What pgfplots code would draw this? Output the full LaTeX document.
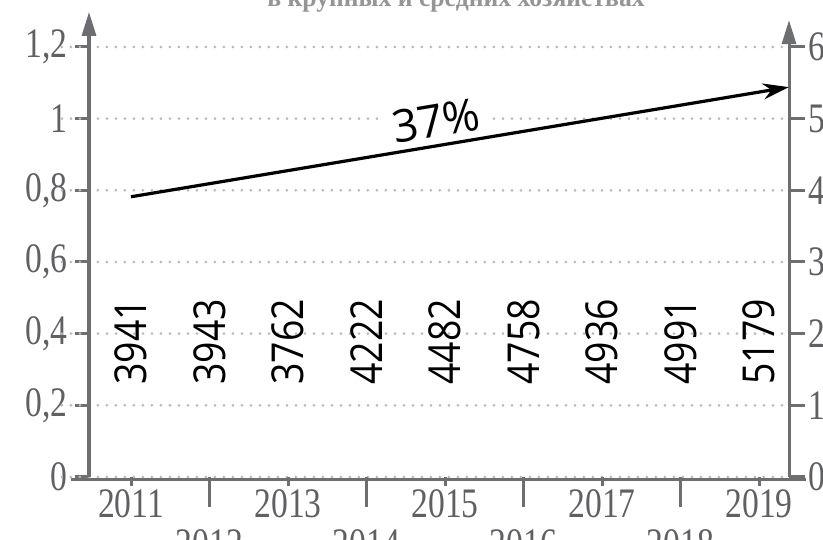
\documentclass[border=0pt]{standalone}
\usepackage{fontspec}
\usepackage{pgfplots}
\pgfplotsset{compat=1.18}
\usetikzlibrary{arrows.meta}
\setmainfont{Liberation Serif}
\newfontfamily\tickfont{Liberation Serif}[FakeStretch=0.8]
\newfontfamily\numfont{Open Sans}[FakeStretch=0.85]
\newfontfamily\pctfont{Open Sans}
\newfontfamily\titlefont{Liberation Serif}[FakeStretch=0.95]
\definecolor{axgray}{RGB}{109,110,113}
\definecolor{gridgray}{RGB}{185,185,187}
\definecolor{labgray}{RGB}{95,96,99}
\definecolor{titlegray}{RGB}{147,149,152}
\pgfplotsset{
  base/.style={
    at={(89bp,63bp)}, anchor=south west,
    scale only axis, width=700bp, height=430bp,
    xmin=2010.465, xmax=2019.382,
    clip=false,
    axis line style={draw=none},
    tick align=outside,
    tick style={axgray, line width=3bp},
    ticklabel style={font=\tickfont\fontsize{42bp}{42bp}\selectfont, text=labgray},
    /pgf/number format/assume math mode=true,
    /pgf/number format/use comma,
  }
}
\begin{document}
\begin{tikzpicture}
\useasboundingbox (0bp,0bp) rectangle (823bp,540bp);
\clip (0bp,0bp) rectangle (823bp,540bp);
% left axis with drawings
\begin{axis}[base,
  ymin=0, ymax=1.2,
  axis x line*=bottom, axis y line*=left,
  xtick=\empty,
  ytick={0,0.2,0.4,0.6,0.8,1,1.2},
  major tick length=14bp,
  yticklabel style={xshift=-4bp},
]
\pgfplotsinvokeforeach{0,0.2,0.4,0.6,0.8,1,1.2}{
  \draw[gridgray, line width=3bp, line cap=round, dash pattern=on 0bp off 9bp]
    (axis cs:2010.12,#1) -- (axis cs:2019.52,#1);
}
\draw[axgray, line width=3bp] (axis cs:2010.236,-0.006) -- (axis cs:2019.60,-0.006);
\draw[axgray, line width=3bp, -{Triangle[length=24bp,width=14bp]}]
  (axis cs:2010.465,0) -- (axis cs:2010.465,1.298);
\draw[axgray, line width=3bp, -{Triangle[length=24bp,width=14bp]}]
  (axis cs:2019.382,0) -- (axis cs:2019.382,1.275);
\addplot[draw=none, mark=none, nodes near coords, point meta=explicit symbolic,
  nodes near coords align={anchor=west},
  every node near coord/.append style={rotate=90, anchor=west, inner sep=0pt,
    font=\numfont\fontsize{44bp}{44bp}\selectfont, text=black}]
  coordinates {
  (2011,0.257) [3941]
  (2012,0.257) [3943]
  (2013,0.257) [3762]
  (2014,0.257) [4222]
  (2015,0.257) [4482]
  (2016,0.257) [4758]
  (2017,0.257) [4936]
  (2018,0.257) [4991]
  (2019,0.257) [5179]
  };
\addplot[black, line width=3.2bp, -{Stealth[length=26bp,width=16bp]}]
  coordinates {(2011,0.782) (2019.38,1.088)}
  node[pos=0.47, sloped, above=7bp, inner ysep=0pt, inner xsep=10bp, fill=white,
       font=\pctfont\fontsize{45bp}{45bp}\selectfont] {37\%};
\end{axis}
% right axis
\begin{axis}[base,
  ymin=0, ymax=6,
  axis x line=none, axis y line*=right,
  ytick={0,1,2,3,4,5,6},
  major tick length=16bp,
]
\end{axis}
% x ticks
\begin{axis}[base,
  ymin=0, ymax=1.2,
  axis x line*=bottom, axis y line=none,
  xtick={2011,2013,2015,2017,2019},
  xticklabels={2011,2013,2015,2017,2019},
  extra x ticks={2012,2014,2016,2018},
  extra x tick labels={2012,2014,2016,2018},
  extra x tick style={major tick length=30bp, xticklabel style={yshift=-19bp}},
  major tick length=9bp,
]
\end{axis}
\node[anchor=base, font=\titlefont\bfseries\fontsize{27bp}{27bp}\selectfont, text=titlegray]
  at (456bp,533bp) {в крупных и средних хозяйствах};
\end{tikzpicture}
\end{document}
